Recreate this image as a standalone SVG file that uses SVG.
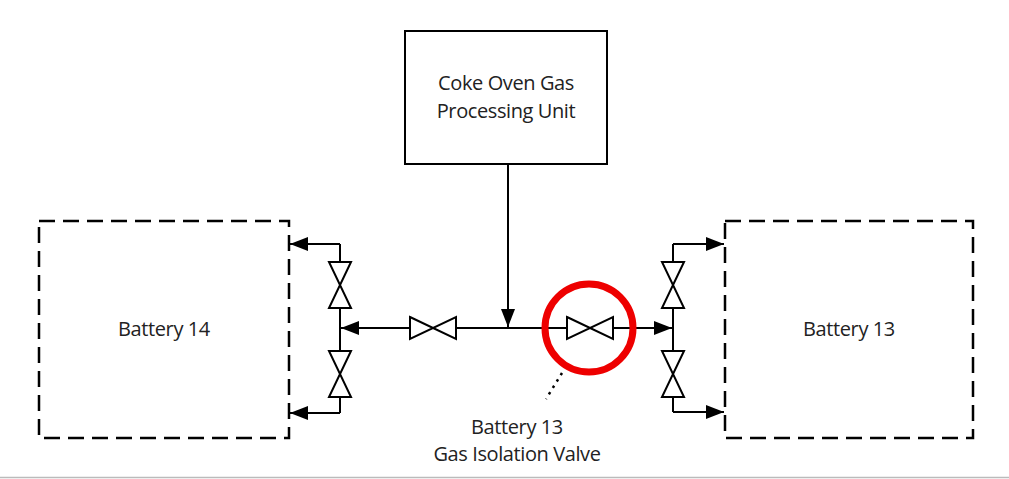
<svg xmlns="http://www.w3.org/2000/svg" width="1009" height="479" viewBox="0 0 1009 479">
<style>
.t{font-family:"Open Sans","Noto Sans",sans-serif;font-size:20px;fill:#222;text-anchor:middle;letter-spacing:-0.4px}
.ln{stroke:#000;stroke-width:2;fill:none}
.v{stroke:#000;stroke-width:2;fill:#fff}
.dash{stroke:#000;stroke-width:2.5;fill:none;stroke-dasharray:16,8}
</style>
<defs>
<marker id="b" viewBox="0 0 18 14" refX="18" refY="7" markerWidth="18" markerHeight="14" orient="auto" markerUnits="userSpaceOnUse"><path d="M0,0L18,7L0,14z"/></marker>
<g id="vh"><path class="v" d="M-23,-11L23,11L23,-11L-23,11Z"/></g>
</defs>
<rect width="1009" height="479" fill="#fff"/>
<line x1="0" y1="477.5" x2="1009" y2="477.5" stroke="#bbb" stroke-width="1.5"/>
<g id="cogpu"><rect x="405" y="31" width="202" height="133" fill="#fff" stroke="#000" stroke-width="2"/>
<text class="t" x="506" y="90">Coke Oven Gas</text><text class="t" x="506" y="118">Processing Unit</text></g>
<g id="b14"><rect class="dash" x="39" y="221" width="250" height="217"/><text class="t" x="164" y="336">Battery 14</text></g>
<g id="b13"><rect class="dash" x="725" y="221" width="248" height="217"/><text class="t" x="849" y="336">Battery 13</text></g>
<g id="connectors">
<line class="ln" x1="508" y1="164" x2="508" y2="327" marker-end="url(#b)"/>
<line class="ln" x1="540" y1="328" x2="341" y2="328" marker-end="url(#b)"/>
<line class="ln" x1="540" y1="328" x2="672" y2="328" marker-end="url(#b)"/>
<line class="ln" x1="340" y1="244" x2="340" y2="413"/>
<polyline class="ln" points="340,244 290,244" marker-end="url(#b)"/>
<polyline class="ln" points="340,413 290,413" marker-end="url(#b)"/>
<line class="ln" x1="673" y1="244" x2="673" y2="412"/>
<polyline class="ln" points="673,244 724,244" marker-end="url(#b)"/>
<polyline class="ln" points="673,412 724,412" marker-end="url(#b)"/>
<line x1="562" y1="373" x2="546" y2="399" stroke="#000" stroke-width="2.5" stroke-dasharray="2.5,5"/>
</g>
<g id="valves">
<use href="#vh" x="433" y="328"/>
<use href="#vh" x="590" y="328"/>
<use href="#vh" transform="translate(340,285) rotate(90)"/>
<use href="#vh" transform="translate(340,374) rotate(90)"/>
<use href="#vh" transform="translate(673,285) rotate(90)"/>
<use href="#vh" transform="translate(673,374) rotate(90)"/>
</g>
<g id="highlight"><circle cx="589" cy="328" r="44" fill="none" stroke="#e00" stroke-width="7"/></g>
<g id="label"><text class="t" x="517" y="434">Battery 13</text><text class="t" x="517" y="461">Gas Isolation Valve</text></g>
</svg>
